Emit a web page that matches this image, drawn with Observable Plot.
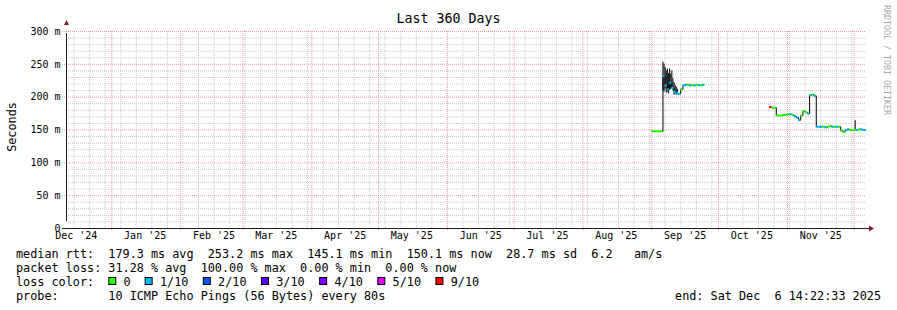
<!DOCTYPE html>
<html><head><meta charset="utf-8">
<script src="https://cdn.jsdelivr.net/npm/d3@7"></script>
<script src="https://cdn.jsdelivr.net/npm/@observablehq/plot@0.6"></script>
<style>
html,body{margin:0;padding:0;background:#fff;}
svg text{font-family:"DejaVu Sans Mono",monospace;}
</style></head><body><div id="chart"></div>
<script>
// ---- time range ----
const startTime = new Date(Date.UTC(2024, 11, 11, 14, 22, 33));
const endTime = new Date(Date.UTC(2025, 11, 6, 14, 22, 33));

// ---- segment 1 (September) ----
const seg1Dates = ["2025-09-01","2025-09-02","2025-09-03","2025-09-04","2025-09-05","2025-09-06","2025-09-07","2025-09-08","2025-09-09","2025-09-10","2025-09-11","2025-09-12","2025-09-13","2025-09-14","2025-09-15","2025-09-16","2025-09-17","2025-09-18","2025-09-19","2025-09-20","2025-09-21","2025-09-22","2025-09-23","2025-09-24"];
const seg1Median = [148,148,148,148,148,232,218,212,222,214,208,206,205,212,218,219,219,218,218,218,219,218,218,219];
const seg1Loss   = [0,0,0,0,0,1,1,1,1,1,1,1,1,0,1,1,0,1,0,1,0,1,0,1];

// ---- segment 2 (late October - December) ----
const seg2Dates = ["2025-10-24","2025-10-25","2025-10-26","2025-10-27","2025-10-28","2025-10-29","2025-10-30","2025-10-31","2025-11-01","2025-11-02","2025-11-03","2025-11-04","2025-11-05","2025-11-06","2025-11-07","2025-11-08","2025-11-09","2025-11-10","2025-11-11","2025-11-12","2025-11-13","2025-11-14","2025-11-15","2025-11-16","2025-11-17","2025-11-18","2025-11-19","2025-11-20","2025-11-21","2025-11-22","2025-11-23","2025-11-24","2025-11-25","2025-11-26","2025-11-27","2025-11-28","2025-11-29","2025-11-30","2025-12-01","2025-12-02","2025-12-03","2025-12-04","2025-12-05","2025-12-06"];
const seg2Median = [185,184,184,172,172,172,173,173,174,174,173,171,169,165,172,179,177,175,203,204,202,155,155,155,155,154,155,156,155,155,155,155,149,147,150,151,150,150,150,150,151,151,150,150];
const seg2Loss   = [6,0,0,0,0,0,0,0,0,1,0,1,1,1,0,0,0,1,1,0,1,1,1,1,0,1,0,0,1,0,1,0,0,0,1,1,0,0,0,1,0,1,1,1];

// ---- smoke (ping spread) ----
const smokeTimes = ["2025-09-06T00:00","2025-09-06T12:00","2025-09-07T00:00","2025-09-07T12:00","2025-09-08T00:00","2025-09-08T12:00","2025-09-09T00:00","2025-09-09T12:00","2025-09-10T00:00","2025-09-10T12:00","2025-09-11T00:00","2025-09-11T12:00","2025-09-12T00:00","2025-09-12T12:00","2025-12-01T12:00"];
const smokeLo = [210,208,212,206,208,205,210,212,214,210,203,205,203,204,150];
const smokeHi = [253,250,245,240,243,236,243,235,240,228,222,218,215,212,164];

// ---- loss colours / legend ----
const lossLabels = ["0","1/10","2/10","3/10","4/10","5/10","9/10"];
const lossColors = ["#26ff00","#00b8ff","#0059ff","#5e00ff","#7e00ff","#dd00ff","#ff0000"];

// ---- axis ticks ----
const yTicks = [0,50,100,150,200,250,300];
const yTickLabels = ["0","50 m","100 m","150 m","200 m","250 m","300 m"];
const monthLabels = ["Dec '24","Jan '25","Feb '25","Mar '25","Apr '25","May '25","Jun '25","Jul '25","Aug '25","Sep '25","Oct '25","Nov '25"];

// ---- text ----
const titleText = "Last 360 Days";
const yLabel = "Seconds";
const watermark = "RRDTOOL / TOBI OETIKER";
const legendLines = [
  "median rtt:  179.3 ms avg  253.2 ms max  145.1 ms min  150.1 ms now  28.7 ms sd  6.2   am/s",
  "packet loss: 31.28 % avg  100.00 % max  0.00 % min  0.00 % now",
  "loss color:",
  "probe:       10 ICMP Echo Pings (56 Bytes) every 80s"
];
const endText = "end: Sat Dec  6 14:22:33 2025";

// ---- build tables ----
const DAY = 864e5;
const rows = [];
seg1Dates.forEach((d, i) => rows.push({seg: 1, date: new Date(d + "T00:00Z"), median: seg1Median[i], loss: seg1Loss[i]}));
seg2Dates.forEach((d, i) => rows.push({seg: 2, date: new Date(d + "T00:00Z"), median: seg2Median[i], loss: seg2Loss[i]}));
const smoke = smokeTimes.map((t, i) => ({date: new Date(t + "Z"), lo: smokeLo[i], hi: smokeHi[i]}));

const months = d3.utcMonth.range(startTime, endTime);
const weeks = d3.utcSunday.range(startTime, endTime);
const minorY = d3.range(10, 301, 10).filter(v => v % 50 !== 0);
const majorY = yTicks.filter(v => v > 0);
const labelMonths = d3.utcMonth.range(d3.utcMonth.floor(startTime), endTime).map((m, i) => ({date: new Date(+m + 15 * DAY), text: monthLabels[i]})).filter(d => d.text);

const W = 897, H = 310, ML = 66, MR = 31, MT = 31, MB = 82;

const chart = Plot.plot({
  width: W, height: H,
  marginLeft: ML, marginRight: MR, marginTop: MT, marginBottom: MB,
  x: {type: "utc", domain: [startTime, endTime], axis: null},
  y: {domain: [0, 300], axis: null},
  color: {type: "identity"},
  style: {background: "#fff", overflow: "visible", fontFamily: "'DejaVu Sans Mono', monospace"},
  marks: [
    Plot.ruleY(minorY, {stroke: "#c8c8c8", strokeDasharray: "1,1"}),
    Plot.ruleX(weeks, {stroke: "#c8c8c8", strokeDasharray: "1,1"}),
    Plot.ruleY(majorY, {stroke: "#ef9a9a", strokeDasharray: "1,1", insetLeft: -4}),
    Plot.ruleX(months, {stroke: "#ef9a9a", strokeDasharray: "1,1", insetBottom: -3}),
    Plot.ruleX(smoke, {x: "date", y1: "lo", y2: "hi", stroke: "#222", strokeWidth: 1.2}),
    Plot.line(rows, {x: "date", y: "median", z: "seg", curve: "step-after", stroke: "#000", strokeWidth: 1}),
    Plot.ruleY(rows, {x1: "date", x2: d => new Date(+d.date + DAY), y: "median", stroke: d => lossColors[d.loss], strokeWidth: 2, clip: true}),
    Plot.ruleY([0], {stroke: "#1f1f1f", insetLeft: -4, insetRight: -4}),
    Plot.ruleX([startTime], {y1: 0, y2: 300, stroke: "#1f1f1f", insetTop: -7, insetBottom: -2}),
    Plot.text(yTicks, {y: d => d, text: (d, i) => yTickLabels[i], frameAnchor: "left", textAnchor: "end", dx: -6, fontSize: 10, fill: "#000"}),
    Plot.text(labelMonths, {x: "date", text: "text", frameAnchor: "bottom", dy: 10, fontSize: 10, fill: "#000"})
  ]
});
document.getElementById("chart").appendChild(chart);

// ---- decorations (arrows, title, legend) ----
const svg = d3.select(chart);
const axisX = ML + 0.5, axisY = H - MB + 0.5, frameRight = W - MR;
svg.append("polygon").attr("points", `${axisX - 2.5},${MT - 6} ${axisX + 2.5},${MT - 6} ${axisX},${MT - 11}`).attr("fill", "#7f1f1f");
svg.append("polygon").attr("points", `${frameRight + 3},${axisY - 3} ${frameRight + 3},${axisY + 3} ${frameRight + 8},${axisY}`).attr("fill", "#7f1f1f");

function txt(x, y, s, size, opts = {}) {
  const t = svg.append("text").attr("x", x).attr("y", y).text(s)
    .attr("font-size", size).attr("fill", opts.fill || "#000")
    .attr("text-anchor", opts.anchor || "start")
    .style("white-space", "pre").attr("font-family", "'DejaVu Sans Mono', monospace");
  if (opts.transform) t.attr("transform", opts.transform);
  return t;
}
txt(W / 2, 23, titleText, 13.3, {anchor: "middle"});
txt(0, 0, yLabel, 11.8, {anchor: "middle", transform: `translate(15.5,127) rotate(-90)`});
txt(0, 0, watermark, 8.3, {fill: "#a8a8a8", transform: `translate(884,5) rotate(90)`});

const CW = 7.1, LX = 16, lineY = [258, 272, 286, 300];
legendLines.forEach((s, i) => txt(LX, lineY[i], s, 11.8));
txt(881, lineY[3], endText, 11.8, {anchor: "end"});

const BW = 7.27;
let idx = 0;
lossLabels.forEach((lab, i) => {
  const bx = LX + 13 * CW + idx * BW;
  svg.append("rect").attr("x", bx + 0.5).attr("y", lineY[2] - 8.5).attr("width", 7).attr("height", 7)
    .attr("fill", lossColors[i]).attr("stroke", "#000").attr("stroke-width", 1);
  txt(bx + 15.3, lineY[2], lab, 11.8);
  idx += 2 + lab.length + 2;
});
</script></body></html>
